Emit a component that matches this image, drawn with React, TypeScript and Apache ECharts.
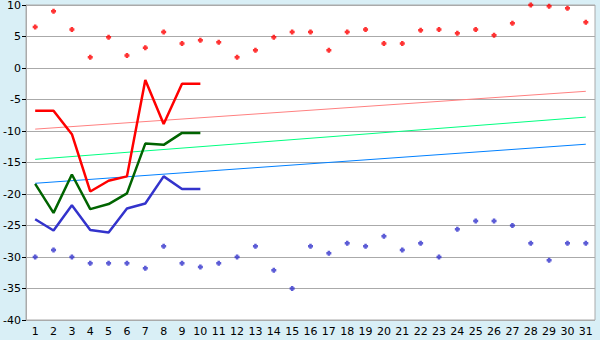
import React, { useEffect, useRef } from "react";
import * as echarts from "echarts";

const days = Array.from({ length: 31 }, (_, i) => String(i + 1));

const maxPoints = [6.5, 9.0, 6.1, 1.7, 4.9, 2.0, 3.2, 5.7, 3.9, 4.4, 4.1, 1.7, 2.8, 4.9, 5.7, 5.7, 2.8, 5.7, 6.1, 3.9, 3.9, 6.0, 6.1, 5.5, 6.1, 5.2, 7.1, 10.0, 9.8, 9.5, 7.25];
const minPoints = [-30.0, -28.9, -30.0, -31.0, -31.0, -31.0, -31.8, -28.3, -31.0, -31.6, -31.0, -30.0, -28.3, -32.1, -35.0, -28.3, -29.4, -27.8, -28.3, -26.7, -28.9, -27.8, -30.0, -25.6, -24.3, -24.3, -25.0, -27.8, -30.5, -27.8, -27.8];

const maxLine = [-6.8, -6.8, -10.5, -19.6, -17.9, -17.2, -1.9, -8.9, -2.5, -2.5];
const meanLine = [-18.4, -23.0, -16.9, -22.4, -21.6, -19.9, -12.0, -12.2, -10.3, -10.3];
const minLine = [-24.0, -25.8, -21.8, -25.7, -26.1, -22.3, -21.5, -17.2, -19.2, -19.2];

// normals: first and last day values only (straight lines between them)
const normalMaxEnds = [-9.7, -3.7];
const normalMeanEnds = [-14.5, -7.8];
const normalMinEnds = [-18.3, -12.1];

const yTicks = { min: -40, max: 10, interval: 5 };

const plus = "path://M1,0H3V1H4V3H3V4H1V3H0V1H1Z";

function ends(v: number[]) {
  return days.map((_, i) => (i === 0 ? v[0] : i === days.length - 1 ? v[1] : null));
}

export default function App() {
  const ref = useRef<HTMLDivElement>(null);
  useEffect(() => {
    const chart = echarts.init(ref.current!, null, { renderer: "svg" });
    const font = "DejaVu Sans";
    chart.setOption({
      animation: false,
      backgroundColor: "#d9eff6",
      grid: {
        left: 26,
        right: 5,
        top: 5,
        bottom: 20,
        containLabel: false,
        outerBoundsMode: "none",
        show: true,
        backgroundColor: "#ffffff",
        borderColor: "#aaaaaa",
        borderWidth: 1,
      },
      xAxis: {
        type: "category",
        data: days,
        boundaryGap: true,
        axisLine: { lineStyle: { color: "#aaaaaa" } },
        axisTick: { alignWithLabel: true, length: 5, lineStyle: { color: "#000" } },
        axisLabel: { color: "#000", fontFamily: font, fontSize: 11, margin: 6, interval: 0 },
        splitLine: { show: false },
      },
      yAxis: {
        type: "value",
        min: yTicks.min,
        max: yTicks.max,
        interval: yTicks.interval,
        axisLine: { show: true, lineStyle: { color: "#aaaaaa" } },
        axisTick: { show: true, length: 4, lineStyle: { color: "#000" } },
        axisLabel: {
          color: "#000",
          fontFamily: font,
          fontSize: 11,
          margin: 5,
        },
        splitLine: { lineStyle: { color: "#aaaaaa" } },
      },
      series: [
        {
          type: "line",
          data: ends(normalMaxEnds),
          connectNulls: true,
          showSymbol: false,
          lineStyle: { color: "#ff8080", width: 1 },
          z: 1,
        },
        {
          type: "line",
          data: ends(normalMeanEnds),
          connectNulls: true,
          showSymbol: false,
          lineStyle: { color: "#00ff80", width: 1 },
          z: 1,
        },
        {
          type: "line",
          data: ends(normalMinEnds),
          connectNulls: true,
          showSymbol: false,
          lineStyle: { color: "#0080ff", width: 1 },
          z: 1,
        },
        {
          type: "line",
          data: maxLine,
          showSymbol: false,
          lineStyle: { color: "#ff0000", width: 2.5 },
          z: 2,
        },
        {
          type: "line",
          data: meanLine,
          showSymbol: false,
          lineStyle: { color: "#006400", width: 2.5 },
          z: 2,
        },
        {
          type: "line",
          data: minLine,
          showSymbol: false,
          lineStyle: { color: "#3333cc", width: 2.5 },
          z: 2,
        },
        {
          type: "scatter",
          data: maxPoints,
          symbol: plus,
          symbolSize: 5,
          itemStyle: { color: "#ff0000" },
          z: 3,
        },
        {
          type: "scatter",
          data: minPoints,
          symbol: plus,
          symbolSize: 5,
          itemStyle: { color: "#3333cc" },
          z: 3,
        },
      ],
    });
    return () => chart.dispose();
  }, []);
  return <div ref={ref} style={{ width: 600, height: 340, position: "absolute", left: 0, top: 0 }} />;
}
